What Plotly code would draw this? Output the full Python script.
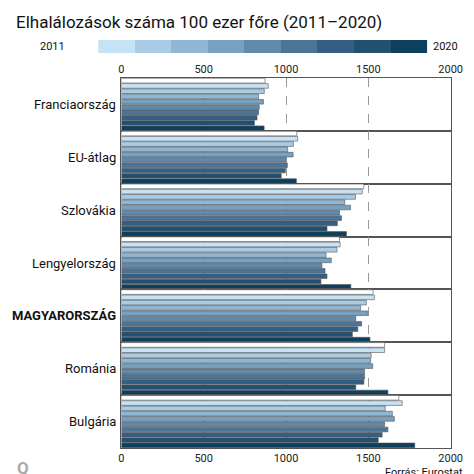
import plotly.graph_objects as go

years = [str(y) for y in range(2011, 2021)]
countries = ["Franciaország", "EU-átlag", "Szlovákia", "Lengyelország",
             "MAGYARORSZÁG", "Románia", "Bulgária"]
values = {
    "Franciaország": [873, 892, 868, 833, 863, 837, 833, 824, 808, 867],
    "EU-átlag": [1065, 1071, 1045, 1010, 1043, 1002, 1008, 996, 971, 1063],
    "Szlovákia": [1473, 1463, 1422, 1357, 1392, 1325, 1337, 1312, 1249, 1367],
    "Lengyelország": [1325, 1329, 1310, 1243, 1275, 1218, 1237, 1249, 1212, 1394],
    "MAGYARORSZÁG": [1529, 1537, 1488, 1453, 1496, 1424, 1459, 1436, 1403, 1510],
    "Románia": [1599, 1599, 1517, 1514, 1527, 1477, 1477, 1473, 1424, 1619],
    "Bulgária": [1685, 1706, 1603, 1646, 1658, 1599, 1619, 1584, 1560, 1782],
}
colors = ["#ffffff", "#c6e3f6", "#a9cce6", "#8fb6d3", "#77a1c0", "#6089ab",
          "#4b7497", "#355f82", "#234f70", "#0d3f5f"]
ticks = [0, 500, 1000, 1500, 2000]

W = 474
x0, x1 = 114 / W, 454 / W
top, bottom = 70, 440
ph = (bottom - top) / len(countries)
font = "Roboto"

fig = go.Figure()
ann = []
for i, c in enumerate(countries):
    n = "" if i == 0 else str(i + 1)
    fig.add_trace(go.Bar(
        y=years, x=values[c], orientation="h", xaxis="x" + n, yaxis="y" + n,
        marker=dict(color=colors, line=dict(color="#555", width=0.6)),
        showlegend=False, hoverinfo="x"))
    yt = 1 - (top + i * ph) / W
    yb = 1 - (top + (i + 1) * ph) / W
    fig.layout["xaxis" + n] = dict(
        domain=[x0, x1], anchor="y" + n, range=[0, 2000], tickvals=ticks,
        showticklabels=(i == 0 or i == len(countries) - 1),
        side="top" if i == 0 else "bottom", ticks="",
        showgrid=True, gridcolor="#999", griddash="dash", gridwidth=1,
        showline=True, mirror=True, linecolor="#555", linewidth=1.2,
        zeroline=False, tickfont=dict(size=11, color="#222"))
    fig.layout["yaxis" + n] = dict(
        domain=[yb, yt], anchor="x" + n, autorange="reversed",
        showticklabels=False, ticks="", showgrid=False,
        showline=True, mirror=True, linecolor="#555", linewidth=1.2)
    label = "<b>%s</b>" % c if c == "MAGYARORSZÁG" else c
    ann.append(dict(text=label, xref="paper", yref="paper", x=x0 - 4 / W,
                    y=(yt + yb) / 2, xanchor="right", yanchor="middle",
                    showarrow=False, font=dict(size=13, color="#111")))

# colour legend strip
fig.add_trace(go.Heatmap(
    z=[list(range(9))], x=years[1:], xaxis="x8", yaxis="y8", showscale=False,
    colorscale=[[k / 8, col] for k, col in enumerate(colors[1:])],
    hoverinfo="skip", xgap=0))
fig.layout["xaxis8"] = dict(domain=[90 / W, 430 / W], anchor="y8", visible=False)
fig.layout["yaxis8"] = dict(domain=[1 - 45 / W, 1 - 32 / W], anchor="x8", visible=False)

ann += [
    dict(text="2011", xref="paper", yref="paper", x=28 / W, y=1 - 38.5 / W,
         xanchor="left", yanchor="middle", showarrow=False, font=dict(size=11)),
    dict(text="2020", xref="paper", yref="paper", x=434 / W, y=1 - 38.5 / W,
         xanchor="left", yanchor="middle", showarrow=False, font=dict(size=11)),
    dict(text="Forrás: Eurostat", xref="paper", yref="paper", x=469 / W, y=1 - 464 / W,
         xanchor="right", yanchor="middle", showarrow=False, font=dict(size=11)),
    dict(text="<b>Q</b>", xref="paper", yref="paper", x=4 / W, y=1 - 460 / W,
         xanchor="left", yanchor="middle", showarrow=False,
         font=dict(size=17, color="#aaa")),
]

fig.update_layout(
    width=474, height=474, margin=dict(l=0, r=0, t=0, b=0),
    paper_bgcolor="white", plot_bgcolor="white",
    bargap=0.12, annotations=ann,
    font=dict(family=font, color="#111"),
    title=dict(text="Elhalálozások száma 100 ezer főre (2011–2020)",
               x=8 / W, xanchor="left", y=1 - 14 / W, yanchor="middle",
               font=dict(size=17, color="#111")),
)
fig.write_html("out.html")
